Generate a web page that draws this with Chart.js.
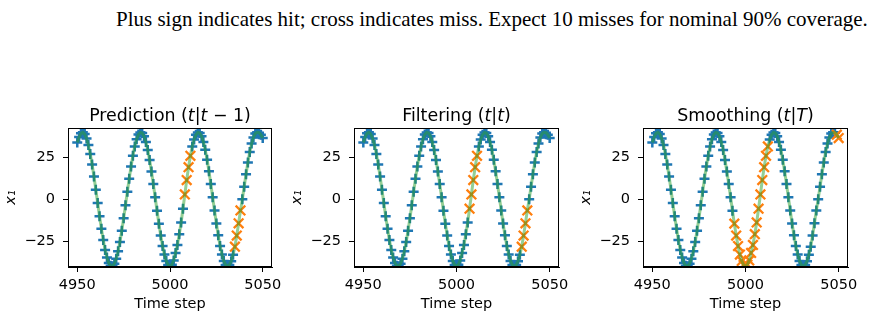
<!DOCTYPE html>
<html>
<head>
<meta charset="utf-8">
<script src="https://cdn.jsdelivr.net/npm/chart.js@4.4.1/dist/chart.umd.min.js"></script>
<style>
  html, body { margin: 0; padding: 0; background: #fff; }
  body { width: 873px; height: 319px; position: relative; overflow: hidden; }
  .caption {
    position: absolute; left: 116px; top: 7px;
    font-family: 'Liberation Serif', 'Times New Roman', serif;
    font-size: 21px; color: #000; white-space: nowrap;
  }
  canvas { position: absolute; top: 0; }
</style>
</head>
<body>
<div class="caption">Plus sign indicates hit; cross indicates miss. Expect 10 misses for nominal 90% coverage.</div>
<canvas id="panel0" style="left:2px" width="294" height="319"></canvas>
<canvas id="panel1" style="left:288px" width="295" height="319"></canvas>
<canvas id="panel2" style="left:577px" width="295" height="319"></canvas>
<script>
// data
const firstStep = 4950;
const x1Values = [
  34.0, 37.2, 39.4, 40.0, 39.0, 36.4, 32.4, 27.1, 20.8, 13.6,
  5.8, -2.2, -10.1, -17.5, -24.3, -30.2, -34.8, -38.0, -39.7, -39.9,
  -38.4, -35.4, -31.0, -25.4, -18.7, -11.3, -3.5, 4.5, 12.3, 19.6,
  26.1, 31.6, 35.9, 38.7, 39.9, 39.6, 37.7, 34.3, 29.5, 23.5,
  16.6, 9.1, 1.2, -6.8, -14.5, -21.6, -27.9, -33.0, -36.8, -39.2,
  -40.0,
  -39.0, -36.5, -32.0, -27.2, -20.8, -13.8, -5.6, 2.9, 11.5, 19.2,
  26.0, 31.6, 35.8, 38.6, 39.9, 39.6, 37.7, 34.3, 29.6, 23.6,
  16.8, 9.2, 1.3, -6.7, -14.4, -21.5, -27.8, -32.9, -36.8, -39.2,
  -40.0, -39.2, -36.9, -33.1, -28.3, -21.6, -14.3, -6.6, 0.0, 7.5,
  15.0, 22.0, 28.3, 33.3, 37.0, 39.3, 40.0, 39.8, 38.6, 36.6
];
const predictionMisses = [5008, 5009, 5010, 5011, 5035, 5036, 5037, 5038];
const filteringMisses = [5007, 5008, 5009, 5010, 5011, 5035, 5036, 5037, 5038];
const smoothingMisses = [4994, 4995, 4996, 4997, 4998, 4999, 5000, 5001, 5002, 5003,
  5004, 5005, 5006, 5007, 5008, 5009, 5010, 5011, 5012, 5049, 5050];
const panelTitles = [
  [['Prediction (', ''], ['t', 'italic'], ['|', ''], ['t', 'italic'], [' \u2212 1)', '']],
  [['Filtering (', ''], ['t', 'italic'], ['|', ''], ['t', 'italic'], [')', '']],
  [['Smoothing (', ''], ['t', 'italic'], ['|', ''], ['T', 'italic'], [')', '']]
];
const xTickValues = [4950, 5000, 5050];
const yTickValues = [-25, 0, 25];

Chart.defaults.font.family = 'DejaVu Sans';
Chart.defaults.color = '#000';

// title with italic math parts
const mathTitle = {
  id: 'mathTitle',
  afterDraw(chart, args, opts) {
    const ctx = chart.ctx, area = chart.chartArea;
    const fontOf = p => (p[1] ? p[1] + ' ' : '') + opts.size + 'px "DejaVu Sans"';
    ctx.save();
    ctx.fillStyle = '#000';
    ctx.textBaseline = 'alphabetic';
    ctx.textAlign = 'left';
    let total = 0;
    const widths = opts.parts.map(p => { ctx.font = fontOf(p); const w = ctx.measureText(p[0]).width; total += w; return w; });
    let x = (area.left + area.right) / 2 - total / 2;
    opts.parts.forEach((p, i) => {
      ctx.font = fontOf(p);
      ctx.fillText(p[0], x, area.top - opts.gap);
      x += widths[i];
    });
    ctx.restore();
  }
};

// axes box on all four sides
const frame = {
  id: 'frame',
  afterDatasetsDraw(chart) {
    const ctx = chart.ctx, a = chart.chartArea;
    ctx.save();
    ctx.strokeStyle = '#000';
    ctx.lineWidth = 1;
    ctx.strokeRect(a.left + 0.5, a.top + 0.5, a.right - a.left - 1, a.bottom - a.top - 1);
    ctx.restore();
  }
};

const fmt = v => v < 0 ? '\u2212' + Math.abs(v) : String(v);

function makePanel(id, titleParts, misses) {
  const line = x1Values.map((v, i) => ({ x: firstStep + i, y: v }));
  const hits = line.filter(p => !misses.includes(p.x));
  const missed = line.filter(p => misses.includes(p.x));
  new Chart(document.getElementById(id), {
    type: 'scatter',
    data: {
      datasets: [
        { data: line, showLine: true, borderColor: 'rgba(44,160,44,0.5)', borderWidth: 3,
          pointRadius: 0, clip: 0 },
        { data: missed, pointStyle: 'crossRot', pointRadius: 6.8, pointBorderWidth: 2.3,
          pointBorderColor: '#ff7f0e', pointBackgroundColor: '#ff7f0e', clip: 0 },
        { data: hits, pointStyle: 'cross', pointRadius: 5, pointBorderWidth: 2.5,
          pointBorderColor: '#1f77b4', pointBackgroundColor: '#1f77b4', clip: 0 }
      ]
    },
    options: {
      responsive: false,
      animation: false,
      layout: { padding: { top: 128, right: 24, left: 0, bottom: 0 } },
      plugins: {
        legend: { display: false },
        tooltip: { enabled: false },
        mathTitle: { parts: titleParts, size: 17.4, gap: 7 }
      },
      scales: {
        x: {
          type: 'linear', min: 4945, max: 5055,
          afterBuildTicks: s => { s.ticks = xTickValues.map(v => ({ value: v })); },
          afterFit: s => { s.height = 52; },
          ticks: { font: { size: 14.5 }, padding: 5, maxRotation: 0, callback: fmt },
          grid: { drawOnChartArea: false, drawTicks: true, tickLength: 5, color: '#000' },
          border: { display: true, color: '#000' },
          title: { display: true, text: 'Time step', font: { size: 14.5 }, padding: { top: 0, bottom: 6 } }
        },
        y: {
          min: -40.4, max: 42.6,
          afterBuildTicks: s => { s.ticks = yTickValues.map(v => ({ value: v })); },
          afterFit: s => { s.width = 66; },
          ticks: { font: { size: 14.5 }, padding: 8, callback: fmt },
          grid: { drawOnChartArea: false, drawTicks: true, tickLength: 5, color: '#000' },
          border: { display: true, color: '#000' },
          title: { display: true, text: 'x\u2081', font: { size: 14.5, style: 'italic' }, padding: { top: 1, bottom: 0 } }
        }
      }
    },
    plugins: [mathTitle, frame]
  });
}

makePanel('panel0', panelTitles[0], predictionMisses);
makePanel('panel1', panelTitles[1], filteringMisses);
makePanel('panel2', panelTitles[2], smoothingMisses);
</script>
</body>
</html>
